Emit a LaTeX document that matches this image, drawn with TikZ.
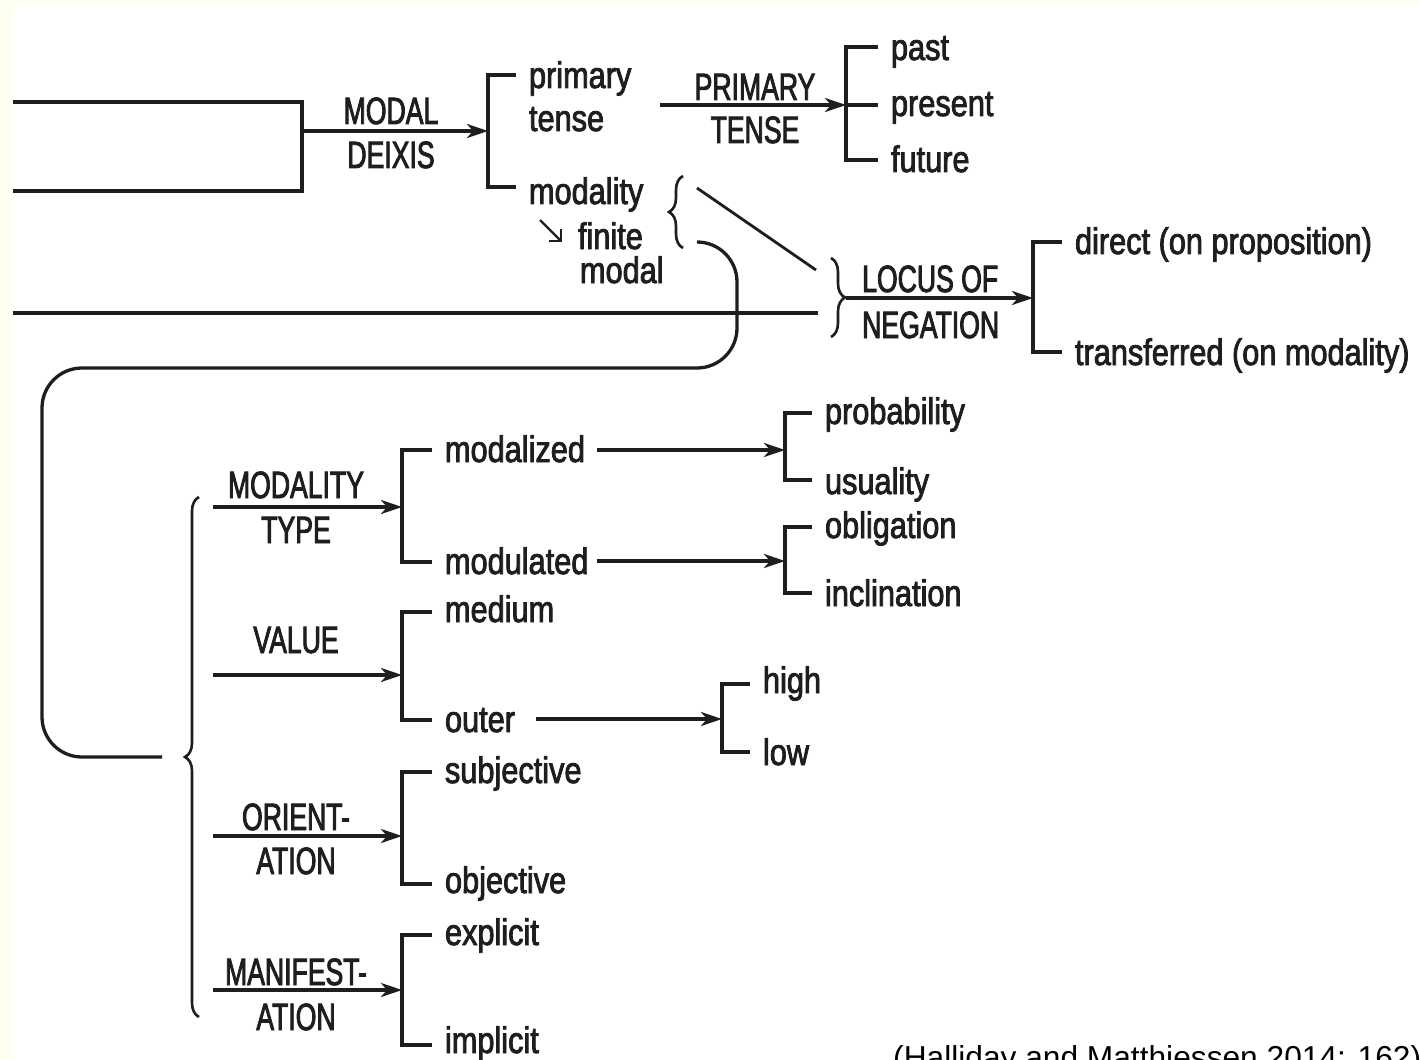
\documentclass[tikz,border=0pt]{standalone}
\usepackage{fontspec}
\setmainfont{Liberation Sans}
\newfontfamily\optfont{Liberation Sans}[FakeStretch=0.83,FakeBold=2.2]
\newfontfamily\sysfont{Liberation Sans}[FakeStretch=0.70,FakeBold=2.2]
\usetikzlibrary{arrows.meta,decorations.pathreplacing}
\definecolor{ink}{RGB}{30,30,30}
\definecolor{paper}{RGB}{255,255,240}

\begin{document}
\begin{tikzpicture}[x=1pt,y=-1pt,
  line/.style={draw=ink,line width=3.3pt},
  arr/.style={line,-{Stealth[length=21pt,width=14pt,inset=6pt]}},
  curl/.style={draw=ink,line width=2.6pt,decorate,decoration={brace,amplitude=14pt}},
  opt/.style={font=\optfont\fontsize{37}{44}\selectfont,text=ink,inner sep=0pt,
              outer xsep=13pt,outer ysep=0pt,anchor=base west},
  sys/.style={font=\sysfont\fontsize{38}{44}\selectfont,text=ink,inner sep=0pt,anchor=base},
]
\useasboundingbox (0,0) rectangle (1420,1059);
\clip (0,0) rectangle (1420,1059);
\fill[paper] (0,0) rectangle (1420,1059);
\fill[white] (13,5) rectangle (1420,1059);

% ---------- entry box ----------
\coordinate (boxTL) at (13,102);
\coordinate (boxTR) at (302,102);
\coordinate (boxBR) at (302,191);
\coordinate (boxBL) at (13,191);
\coordinate (boxOut) at (302,131);
\draw[line] (boxTL) -- (boxTR) -- (boxBR) -- (boxBL);

% ---------- MODAL DEIXIS ----------
\coordinate (mdT) at (488,75);
\coordinate (mdM) at (488,131);
\coordinate (mdB) at (488,187);
\node[sys] (modalA) at (391,124) {MODAL};
\node[sys] (modalB) at (391,168) {DEIXIS};
\draw[arr] (boxOut) -- (mdM);
\node[opt] (primary) at (516,88) {primary};
\node[opt] (tense) at (516,131) {tense};
\node[opt] (modality) at (516,204) {modality};
\node[opt] (finite) at (565,249) {finite};
\node[opt] (fmodal) at (567,283) {modal};
\draw[line] (mdT -| primary.west) -- (mdT) -- (mdB) -- (mdB -| modality.west);
\coordinate (realS) at (540,220);
\coordinate (realE) at (562,242);
\draw[line,line width=2.4pt,-{Straight Barb[length=8pt,width=16pt]}] (realS) -- (realE);

% ---------- PRIMARY TENSE ----------
\coordinate (ptS) at (660,105);
\coordinate (ptM) at (846,105);
\coordinate (ptT) at (846,47);
\coordinate (ptB) at (846,160);
\node[sys] (primA) at (755,100) {PRIMARY};
\node[sys] (primB) at (755,143) {TENSE};
\draw[arr] (ptS) -- (ptM);
\node[opt] (past) at (878,60) {past};
\node[opt] (present) at (878,116) {present};
\node[opt] (future) at (878,172) {future};
\draw[line] (ptT -| past.west) -- (ptT) -- (ptB) -- (ptB -| future.west);
\draw[line] (ptM) -- (ptM -| present.west);

% ---------- LOCUS OF NEGATION ----------
\coordinate (brAtop) at (683,176);
\coordinate (brAbot) at (683,248);
\draw[curl] (brAbot) -- (brAtop);
\coordinate (diagS) at (697,188);
\coordinate (diagE) at (816,270);
\draw[line,line width=2.8pt] (diagS) -- (diagE);
\coordinate (negS) at (13,313);
\coordinate (negE) at (818,313);
\draw[line] (negS) -- (negE);
\coordinate (brBtop) at (831,258);
\coordinate (brBbot) at (831,337);
\draw[curl] (brBtop) -- (brBbot);
\coordinate (locS) at (846,298);
\coordinate (lnM) at (1033,298);
\coordinate (lnT) at (1033,242);
\coordinate (lnB) at (1033,352);
\node[sys,anchor=base west] (locA) at (862,292) {LOCUS OF};
\node[sys,anchor=base west] (locB) at (862,338) {NEGATION};
\draw[arr] (locS) -- (lnM);
\node[opt] (direct) at (1062,254) {direct (on proposition)};
\node[opt] (transf) at (1062,365) {transferred (on modality)};
\draw[line] (lnT -| direct.west) -- (lnT) -- (lnB) -- (lnB -| transf.west);

% ---------- loop from the finite modal to the modality systems ----------
\coordinate (loopS) at (697,242);
\coordinate (loopA) at (737,242);
\coordinate (loopB) at (737,368);
\coordinate (loopC) at (42,368);
\coordinate (loopD) at (42,757);
\coordinate (loopE) at (162,757);
\draw[line,rounded corners=40pt] (loopS) -- (loopA) -- (loopB) -- (loopC) -- (loopD) -- (loopE);
\coordinate (brCtop) at (199,497);
\coordinate (brCbot) at (199,1017);
\draw[curl] (brCbot) -- (brCtop);

% ---------- MODALITY TYPE ----------
\coordinate (mtS) at (213,507);
\coordinate (mtM) at (402,507);
\coordinate (mtT) at (402,450);
\coordinate (mtB) at (402,562);
\node[sys] (mtA) at (296,498) {MODALITY};
\node[sys] (mtL) at (296,543) {TYPE};
\draw[arr] (mtS) -- (mtM);
\node[opt] (modalized) at (432,462) {modalized};
\node[opt] (modulated) at (432,574) {modulated};
\draw[line] (mtT -| modalized.west) -- (mtT) -- (mtB) -- (mtB -| modulated.west);

\coordinate (mzS) at (597,450);
\coordinate (mzM) at (785,450);
\coordinate (mzT) at (785,413);
\coordinate (mzB) at (785,480);
\draw[arr] (mzS) -- (mzM);
\node[opt] (probability) at (812,424) {probability};
\node[opt] (usuality) at (812,494) {usuality};
\draw[line] (mzT -| probability.west) -- (mzT) -- (mzB) -- (mzB -| usuality.west);

\coordinate (mlS) at (597,561);
\coordinate (mlM) at (785,561);
\coordinate (mlT) at (785,527);
\coordinate (mlB) at (785,593);
\draw[arr] (mlS) -- (mlM);
\node[opt] (obligation) at (812,538) {obligation};
\node[opt] (inclination) at (812,606) {inclination};
\draw[line] (mlT -| obligation.west) -- (mlT) -- (mlB) -- (mlB -| inclination.west);

% ---------- VALUE ----------
\coordinate (vaS) at (213,675);
\coordinate (vaM) at (402,675);
\coordinate (vaT) at (402,612);
\coordinate (vaB) at (402,720);
\node[sys] (value) at (296,653) {VALUE};
\draw[arr] (vaS) -- (vaM);
\node[opt] (medium) at (432,622) {medium};
\node[opt] (outer) at (432,732) {outer};
\draw[line] (vaT -| medium.west) -- (vaT) -- (vaB) -- (vaB -| outer.west);

\coordinate (ouS) at (536,719);
\coordinate (ouM) at (722,719);
\coordinate (ouT) at (722,684);
\coordinate (ouB) at (722,752);
\draw[arr] (ouS) -- (ouM);
\node[opt] (high) at (750,693) {high};
\node[opt] (low) at (750,765) {low};
\draw[line] (ouT -| high.west) -- (ouT) -- (ouB) -- (ouB -| low.west);

% ---------- ORIENTATION ----------
\coordinate (orS) at (213,836);
\coordinate (orM) at (402,836);
\coordinate (orT) at (402,772);
\coordinate (orB) at (402,884);
\node[sys] (orA) at (296,830) {ORIENT-};
\node[sys] (orL) at (296,874) {ATION};
\draw[arr] (orS) -- (orM);
\node[opt] (subjective) at (432,783) {subjective};
\node[opt] (objective) at (432,893) {objective};
\draw[line] (orT -| subjective.west) -- (orT) -- (orB) -- (orB -| objective.west);

% ---------- MANIFESTATION ----------
\coordinate (maS) at (213,990);
\coordinate (maM) at (402,990);
\coordinate (maT) at (402,935);
\coordinate (maB) at (402,1045);
\node[sys] (maA) at (296,985) {MANIFEST-};
\node[sys] (maL) at (296,1030) {ATION};
\draw[arr] (maS) -- (maM);
\node[opt] (explicit) at (432,945) {explicit};
\node[opt] (implicit) at (432,1053) {implicit};
\draw[line] (maT -| explicit.west) -- (maT) -- (maB) -- (maB -| implicit.west);

% ---------- source ----------
\node[font=\fontsize{31.7}{38}\selectfont,text=black,inner sep=0pt,anchor=base west]
  (source) at (893,1068) {(Halliday and Matthiessen 2014: 162)};
\end{tikzpicture}
\end{document}
